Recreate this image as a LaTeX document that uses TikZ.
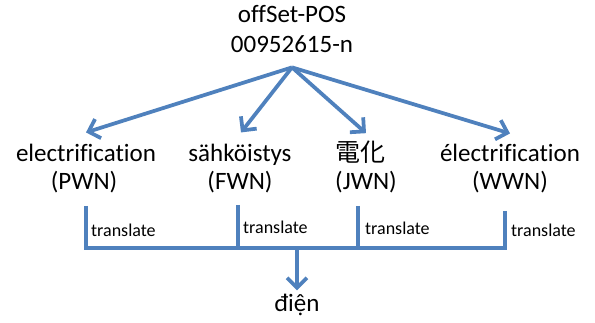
\documentclass[tikz,border=0pt]{standalone}
\usepackage{fontspec}
\setmainfont{Carlito}[Ligatures={NoCommon}]
\newfontfamily\cjkfont{Noto Sans CJK JP}
\usetikzlibrary{arrows.meta}
\definecolor{linkblue}{HTML}{4F81BD}
\begin{document}
\begin{tikzpicture}[x=1pt,y=-1pt,
  lbl/.style={font=\fontsize{25}{30}\selectfont, inner sep=0pt, anchor=base},
  trl/.style={font=\fontsize{18}{20}\selectfont, inner sep=0pt, anchor=base west},
  arr/.style={draw=linkblue, line width=3.75pt, -{Straight Barb[length=10pt,width=20pt]}},
  bus/.style={draw=linkblue, line width=3.75pt}]
\useasboundingbox (0,0) rectangle (595,323);
% top node
\node[lbl] (top1) at (292,23) {offSet-POS};
\node[lbl] (top2) at (292,53) {00952615-n};
\coordinate (src) at ([yshift=-14pt]top2.south);
% language nodes
\node[lbl] (pwn1) at (86,162) {electrification};
\node[lbl] (pwn2) at (84,190) {(PWN)};
\node[lbl] (fwn1) at (240,162) {sähköistys};
\node[lbl] (fwn2) at (240,190) {(FWN)};
\node[lbl] (jwn1) at (360,162) {\cjkfont 電化};
\node[lbl] (jwn2) at (366,190) {(JWN)};
\node[lbl] (wwn1) at (510,162) {électrification};
\node[lbl] (wwn2) at (510,190) {(WWN)};
% arrows from top
\draw[arr] (src) -- ([yshift=12pt]pwn1.north);
\draw[arr] (src) -- ([xshift=1pt,yshift=12pt]fwn1.north);
\draw[arr] (src) -- ([xshift=6pt,yshift=8pt]jwn1.north);
\draw[arr] (src) -- ([yshift=11pt]wwn1.north);
% translate bars and bus
\coordinate (pwnTop) at (86,206);
\coordinate (fwnTop) at (238,205);
\coordinate (jwnTop) at (358,206);
\coordinate (wwnTop) at (505,211);
\coordinate (busL) at (84.1,248);
\coordinate (busMid) at (297,248);
\draw[bus] (wwnTop) |- (busL);
\draw[bus] (pwnTop) -- (pwnTop |- busL);
\draw[bus] (fwnTop) -- (fwnTop |- busL);
\draw[bus] (jwnTop) -- (jwnTop |- busL);
\node[trl] (tp) at (91,237) {translate};
\node[trl] (tf) at (243,234) {translate};
\node[trl] (tj) at (365,235) {translate};
\node[trl] (tw) at (511,237) {translate};
% result
\node[lbl] (dien) at (297,312) {điện};
\draw[arr] (busMid) -- ([yshift=4pt]dien.north);
\end{tikzpicture}
\end{document}
